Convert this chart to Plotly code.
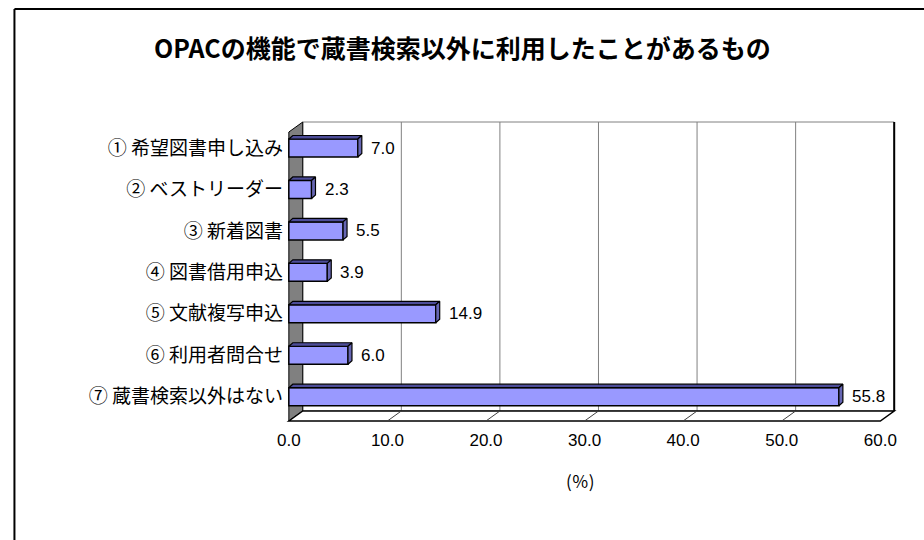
import plotly.graph_objects as go

# ---- data ----
categories = ["① 希望図書申し込み", "② ベストリーダー", "③ 新着図書", "④ 図書借用申込",
              "⑤ 文献複写申込", "⑥ 利用者問合せ", "⑦ 蔵書検索以外はない"]
values = [7.0, 2.3, 5.5, 3.9, 14.9, 6.0, 55.8]
x_ticks = [0, 10, 20, 30, 40, 50, 60]
x_ticktext = ["0.0", "10.0", "20.0", "30.0", "40.0", "50.0", "60.0"]
title_text = "OPACの機能で蔵書検索以外に利用したことがあるもの"
x_title = "(％)"

W, H = 924, 540
FONT = "Noto Sans CJK JP"
NUMFONT = "Liberation Sans"

# ---- geometry (pixel layout of the pseudo-3D frame) ----
X0PX, XSCALE = 284.0, 9.933          # px of value 0 on front plane, px per unit
Y0PX, YSCALE = 148.0, 41.45          # px of category 0, px per category
XR = [-0.5, 61.8]
YR = [6.75, -0.75]
DX = 14 / XSCALE                     # wall depth in x units
DY = 10 / YSCALE                     # wall depth in category units
K_TOP, K_BOT = -0.386, 6.586         # front plane top/bottom in category units
XMAX = 60
BAR_W = 0.435
BDX = 4 / XSCALE                     # bar depth
BDY = 3.5 / YSCALE

def xdom(shift=0.0):
    a = X0PX + XR[0] * XSCALE + shift
    b = X0PX + XR[1] * XSCALE + shift
    return [a / W, b / W]

ypx_bot = Y0PX + YR[0] * YSCALE
ypx_top = Y0PX + YR[1] * YSCALE
ydom = [(H - ypx_bot) / H, (H - ypx_top) / H]

ypos = list(range(len(categories)))

fig = go.Figure()

# front faces of bars
fig.add_trace(go.Bar(
    x=values, y=ypos, orientation="h", width=BAR_W,
    marker=dict(color="#9999FF", line=dict(color="black", width=1.5)),
    xaxis="x2", yaxis="y", hoverinfo="x", showlegend=False,
))

# top and side faces of bars
top_x, top_y, side_x, side_y = [], [], [], []
for k, v in zip(ypos, values):
    yt = k - BAR_W / 2
    yb = k + BAR_W / 2
    top_x += [0, v, v + BDX, BDX, 0, None]
    top_y += [yt, yt, yt - BDY, yt - BDY, yt, None]
    side_x += [v, v + BDX, v + BDX, v, v, None]
    side_y += [yt, yt - BDY, yb - BDY, yb, yt, None]

fig.add_trace(go.Scatter(x=top_x, y=top_y, mode="lines", fill="toself",
                         fillcolor="#4d4d99", line=dict(color="black", width=1.2),
                         xaxis="x2", yaxis="y", hoverinfo="skip", showlegend=False))
fig.add_trace(go.Scatter(x=side_x, y=side_y, mode="lines", fill="toself",
                         fillcolor="#6666B3", line=dict(color="black", width=1.2),
                         xaxis="x2", yaxis="y", hoverinfo="skip", showlegend=False))

shapes = []
# back wall
shapes.append(dict(type="rect", xref="x", yref="y", x0=DX, x1=XMAX + DX,
                   y0=K_TOP - DY, y1=K_BOT - DY, fillcolor="white",
                   line=dict(color="#808080", width=1), layer="below"))
# gridlines on back wall
for t in x_ticks[1:-1]:
    shapes.append(dict(type="line", xref="x", yref="y", x0=t + DX, x1=t + DX,
                       y0=K_TOP - DY, y1=K_BOT - DY,
                       line=dict(color="#808080", width=1), layer="below"))
# right edge of back wall
shapes.append(dict(type="line", xref="x", yref="y", x0=XMAX + DX, x1=XMAX + DX,
                   y0=K_TOP - DY, y1=K_BOT - DY,
                   line=dict(color="black", width=2), layer="below"))
# left wall
shapes.append(dict(type="path", xref="x", yref="y",
                   path=f"M 0 {K_TOP} L {DX} {K_TOP-DY} L {DX} {K_BOT-DY} L 0 {K_BOT} Z",
                   fillcolor="#808080", line=dict(color="black", width=1), layer="below"))
# floor
shapes.append(dict(type="path", xref="x", yref="y",
                   path=f"M 0 {K_BOT} L {DX} {K_BOT-DY} L {XMAX+DX} {K_BOT-DY} L {XMAX} {K_BOT} Z",
                   fillcolor="white", line=dict(color="black", width=1.5), layer="below"))
# floor diagonal tick lines
for t in x_ticks[1:-1]:
    shapes.append(dict(type="line", xref="x", yref="y", x0=t, x1=t + DX,
                       y0=K_BOT, y1=K_BOT - DY,
                       line=dict(color="#404040", width=1), layer="below"))
# outer chart frame (left and top edges visible in the window)
shapes.append(dict(type="line", xref="paper", yref="paper",
                   x0=7.5 / W, x1=7.5 / W, y0=0, y1=(H - 9) / H,
                   line=dict(color="black", width=2), layer="below"))
shapes.append(dict(type="line", xref="paper", yref="paper",
                   x0=7.5 / W, x1=1, y0=(H - 9) / H, y1=(H - 9) / H,
                   line=dict(color="black", width=2), layer="below"))

annotations = []
for k, v in zip(ypos, values):
    annotations.append(dict(xref="x2", yref="y", x=v, y=k, text=f"{v:.1f}",
                            xanchor="left", yanchor="middle", xshift=11,
                            showarrow=False, font=dict(family=NUMFONT, size=17, color="black")))
annotations.append(dict(xref="paper", yref="paper", x=578 / W, y=(H - 480) / H,
                        text=x_title, showarrow=False, xanchor="center", yanchor="middle",
                        font=dict(family=FONT, size=17, color="black")))
annotations.append(dict(xref="paper", yref="paper", x=459 / W, y=(H - 47) / H,
                        text=f"<b>{title_text}</b>", showarrow=False,
                        xanchor="center", yanchor="middle",
                        font=dict(family=FONT, size=25, color="black")))

fig.update_layout(
    width=W, height=H, margin=dict(l=0, r=0, t=0, b=0),
    paper_bgcolor="white", plot_bgcolor="rgba(0,0,0,0)",
    shapes=shapes, annotations=annotations, showlegend=False,
    xaxis=dict(domain=xdom(), range=XR, tickvals=x_ticks, ticktext=x_ticktext,
               showgrid=False, zeroline=False, showline=False, ticks="",
               tickfont=dict(family=NUMFONT, size=17, color="black"), anchor="y"),
    xaxis2=dict(domain=xdom(4), range=XR, overlaying="x", visible=False, anchor="y"),
    yaxis=dict(domain=ydom, range=YR, tickvals=ypos, ticktext=categories,
               showgrid=False, zeroline=False, showline=False, ticks="",
               tickfont=dict(family=FONT, size=19, color="black"), anchor="x"),
)

fig.write_html("out.html", config={"displayModeBar": False},
               post_script="document.body.style.margin='0';document.body.style.overflow='hidden';")
